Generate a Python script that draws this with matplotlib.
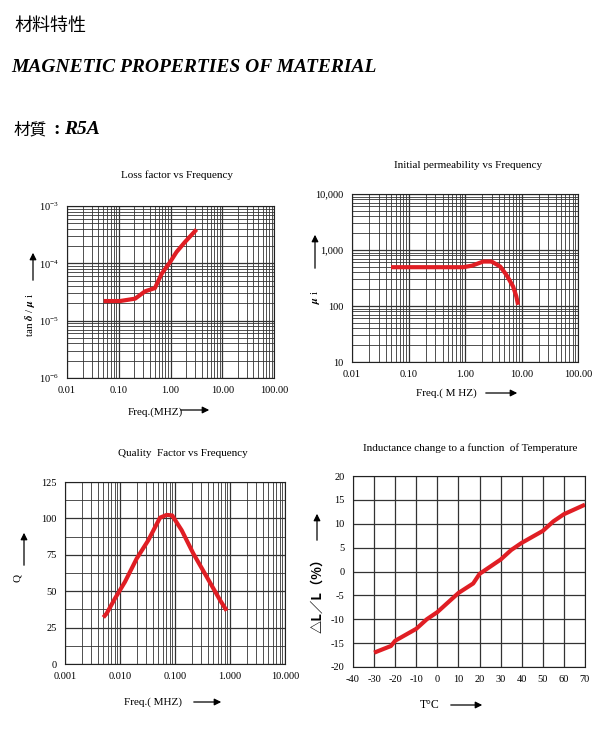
import matplotlib
matplotlib.use('Agg')
import matplotlib.pyplot as plt
from matplotlib.ticker import LogLocator, FixedLocator, NullFormatter, FuncFormatter, MultipleLocator

plt.rcParams['font.family'] = ['Liberation Serif', 'DejaVu Serif']
plt.rcParams['mathtext.fontset'] = 'stix'
plt.rcParams['axes.unicode_minus'] = False

# ---- data ----
loss_freq = [0.051, 0.106, 0.207, 0.323, 0.50, 0.676, 0.98, 1.31, 1.9, 3.19]
loss_val = [2.2e-5, 2.2e-5, 2.42e-5, 3.25e-5, 3.7e-5, 6.6e-5, 1.05e-4, 1.58e-4, 2.35e-4, 3.9e-4]

perm_freq = [0.049, 0.93, 1.33, 2.1, 2.95, 4.2, 5.4, 7.1, 8.1, 8.7]
perm_val = [493, 493, 525, 622, 622, 507, 360, 223, 148, 105]

q_freq = [0.00498, 0.00572, 0.0081, 0.0123, 0.0201, 0.0327, 0.0534, 0.0707, 0.089,
          0.132, 0.215, 0.377, 0.658, 0.87]
q_val = [32, 34.7, 45, 56.4, 72.4, 85, 100.5, 102.4, 102, 91.9, 75.9, 59.9, 43.9, 36.6]

temp_c = [-30, -22, -20, -10, -5, 0, 10, 17, 20, 25, 30, 35, 40, 50, 55, 60, 70]
dl_pct = [-17, -15.6, -14.5, -12, -10, -8.5, -4.5, -2.5, -0.5, 1, 2.5, 4.5, 6, 8.5, 10.5, 12, 14]

W, H = 604, 730
RED = '#e01e24'
GRID = '#333333'

fig = plt.figure(figsize=(W / 100, H / 100), dpi=100)
fig.patch.set_facecolor('white')


def px_axes(l, t, r, b):
    return fig.add_axes([l / W, 1 - b / H, (r - l) / W, (b - t) / H])


def style(ax):
    ax.tick_params(which='both', length=0, labelsize=7.5, pad=6)
    for s in ax.spines.values():
        s.set_linewidth(0.8)
        s.set_color('#222222')
    ax.set_axisbelow(True)


def arrow(x0, y0, x1, y1):
    fig.add_artist(matplotlib.patches.FancyArrowPatch(
        (x0 / W, 1 - y0 / H), (x1 / W, 1 - y1 / H), transform=fig.transFigure,
        arrowstyle='-|>', mutation_scale=10, lw=0.9, color='black'))


def ftext(x, y, s, **kw):
    fig.text(x / W, 1 - y / H, s, **kw)


# ---- header ----
cjk = ['Noto Sans CJK TC', 'DejaVu Sans']
ftext(14, 26, '材料特性', family=cjk, fontsize=13, va='center', ha='left')
ftext(11, 68, 'MAGNETIC PROPERTIES OF MATERIAL', fontsize=14, weight='bold',
      style='italic', va='center', ha='left')
ftext(14, 130, '材質', family=cjk, fontsize=12, va='center', ha='left')
ftext(53, 129, ':', fontsize=14, weight='bold', va='center', ha='left')
ftext(64, 130, 'R5A', fontsize=14, weight='bold', style='italic', va='center', ha='left')

# ---- panel 1: loss factor ----
ax1 = px_axes(67, 206, 274, 378)
ax1.plot(loss_freq, loss_val, color=RED, lw=3, solid_capstyle='butt')
ax1.set_xscale('log')
ax1.set_yscale('log')
ax1.set_xlim(0.01, 100)
ax1.set_ylim(1e-6, 1e-3)
ax1.xaxis.set_major_locator(FixedLocator([0.01, 0.1, 1, 10, 100]))
ax1.xaxis.set_major_formatter(FuncFormatter(lambda v, p: '%.2f' % v))
ax1.xaxis.set_minor_locator(LogLocator(base=10, subs=range(2, 10)))
ax1.xaxis.set_minor_formatter(NullFormatter())
ax1.yaxis.set_major_locator(FixedLocator([1e-6, 1e-5, 1e-4, 1e-3]))
ax1.yaxis.set_minor_locator(LogLocator(base=10, subs=range(2, 10)))
ax1.yaxis.set_minor_formatter(NullFormatter())
ax1.grid(which='major', color=GRID, lw=0.9)
ax1.grid(which='minor', color=GRID, lw=0.6)
style(ax1)
ftext(177, 175, 'Loss factor vs Frequency', fontsize=8, ha='center', va='center')
ftext(30, 315, r'tan $\boldsymbol{\delta}$ / $\boldsymbol{\mu}$ i', fontsize=8,
      rotation=90, ha='center', va='center')
arrow(33, 283, 33, 250)
ftext(155, 412, 'Freq.(MHZ)', fontsize=8, ha='center', va='center')
arrow(178, 410, 212, 410)

# ---- panel 2: initial permeability ----
ax2 = px_axes(352, 194, 578, 362)
ax2.plot(perm_freq, perm_val, color=RED, lw=3, solid_capstyle='butt')
ax2.set_xscale('log')
ax2.set_yscale('log')
ax2.set_xlim(0.01, 100)
ax2.set_ylim(10, 10000)
ax2.xaxis.set_major_locator(FixedLocator([0.01, 0.1, 1, 10, 100]))
ax2.xaxis.set_major_formatter(FuncFormatter(lambda v, p: '%.2f' % v))
ax2.xaxis.set_minor_locator(LogLocator(base=10, subs=range(2, 10)))
ax2.xaxis.set_minor_formatter(NullFormatter())
ax2.yaxis.set_major_locator(FixedLocator([10, 100, 1000, 10000]))
ax2.yaxis.set_major_formatter(FuncFormatter(lambda v, p: '{:,}'.format(int(round(v)))))
ax2.yaxis.set_minor_locator(LogLocator(base=10, subs=range(2, 10)))
ax2.yaxis.set_minor_formatter(NullFormatter())
ax2.grid(which='major', color=GRID, lw=0.9)
ax2.grid(which='minor', color=GRID, lw=0.6)
style(ax2)
ftext(468, 165, 'Initial permeability vs Frequency', fontsize=8, ha='center', va='center')
ftext(315, 297, r'$\boldsymbol{\mu}$ i', fontsize=8, rotation=90, ha='center', va='center')
arrow(315, 271, 315, 232)
ftext(446, 393, 'Freq.( M HZ)', fontsize=8, ha='center', va='center')
arrow(483, 393, 520, 393)

# ---- panel 3: quality factor ----
ax3 = px_axes(65, 482, 285, 664)
ax3.plot(q_freq, q_val, color=RED, lw=3, solid_capstyle='butt')
ax3.set_xscale('log')
ax3.set_xlim(0.001, 10)
ax3.set_ylim(0, 125)
ax3.xaxis.set_major_locator(FixedLocator([0.001, 0.01, 0.1, 1, 10]))
ax3.xaxis.set_major_formatter(FuncFormatter(lambda v, p: '%.3f' % v))
ax3.xaxis.set_minor_locator(LogLocator(base=10, subs=range(2, 10)))
ax3.xaxis.set_minor_formatter(NullFormatter())
ax3.yaxis.set_major_locator(MultipleLocator(25))
ax3.yaxis.set_minor_locator(MultipleLocator(12.5))
ax3.grid(which='major', color=GRID, lw=0.9)
ax3.grid(which='minor', color=GRID, lw=0.6)
style(ax3)
ftext(183, 454, 'Quality  Factor vs Frequency', fontsize=8, ha='center', va='center')
ftext(18, 578, 'Q', fontsize=8, rotation=90, ha='center', va='center')
arrow(24, 568, 24, 530)
ftext(153, 702, 'Freq.( MHZ)', fontsize=8, ha='center', va='center')
arrow(191, 702, 224, 702)

# ---- panel 4: inductance vs temperature ----
ax4 = px_axes(353, 476, 585, 667)
ax4.plot(temp_c, dl_pct, color=RED, lw=3, solid_capstyle='butt')
ax4.set_xlim(-40, 70)
ax4.set_ylim(-20, 20)
ax4.xaxis.set_major_locator(MultipleLocator(10))
ax4.yaxis.set_major_locator(MultipleLocator(5))
ax4.grid(which='major', color=GRID, lw=0.9)
style(ax4)
ftext(470, 448, 'Inductance change to a function  of Temperature', fontsize=8,
      ha='center', va='center')
ftext(317, 592, '△L／L（%）', family=cjk, fontsize=9.5, weight='bold', rotation=90,
      ha='center', va='center')
arrow(317, 543, 317, 511)
ftext(430, 705, 'T°C', fontsize=8.5, ha='center', va='center')
arrow(448, 705, 485, 705)

fig.savefig('out.png', dpi=100, facecolor='white')
